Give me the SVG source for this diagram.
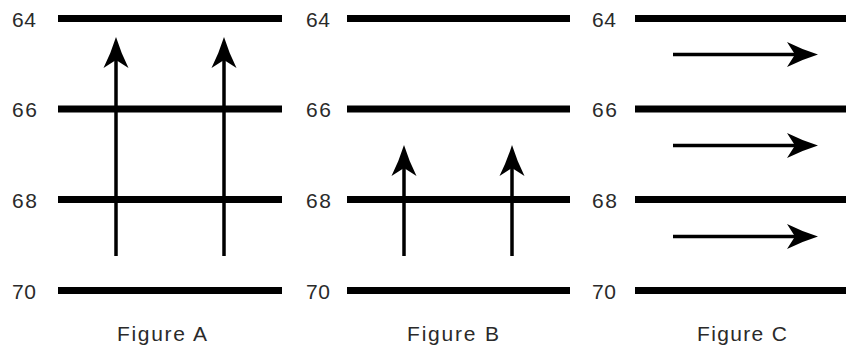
<svg xmlns="http://www.w3.org/2000/svg" width="846" height="351" viewBox="0 0 846 351">
<style>
.lvl{stroke:#000;stroke-width:7;fill:none}
.lab{font-family:"Liberation Sans",Arial,sans-serif;font-size:21px;fill:#2a2a2a}
.cap{font-family:"Liberation Sans",Arial,sans-serif;font-size:21px;fill:#2a2a2a}
.arr{stroke:#000;stroke-width:3.5;fill:none;marker-end:url(#head)}
</style>
<defs>
<marker id="head" markerUnits="userSpaceOnUse" viewBox="-15 -15 40 30" refX="0" refY="0" markerWidth="40" markerHeight="30" orient="auto">
<path d="M20,0 Q4,-5 -11,-12.5 L-3,0 L-11,12.5 Q4,5 20,0 Z" fill="#000"/>
</marker>
</defs>
<rect width="846" height="351" fill="#fff"/>
<g id="figA">
<g id="a64"><text class="lab" x="12" y="26.5" textLength="24">64</text><line class="lvl" x1="58" y1="18.5" x2="282" y2="18.5"/></g>
<g id="a66"><text class="lab" x="12" y="117" textLength="25">66</text><line class="lvl" x1="58" y1="109" x2="282" y2="109"/></g>
<g id="a68"><text class="lab" x="12" y="207.5" textLength="25">68</text><line class="lvl" x1="58" y1="199.5" x2="282" y2="199.5"/></g>
<g id="a70"><text class="lab" x="12" y="298.5" textLength="24">70</text><line class="lvl" x1="58" y1="290.5" x2="282" y2="290.5"/></g>
<g id="capA"><text class="cap" x="117" y="341" textLength="90">Figure A</text></g>
</g>
<g id="figB">
<g id="b64"><text class="lab" x="306" y="26.5" textLength="24">64</text><line class="lvl" x1="347" y1="18.5" x2="570" y2="18.5"/></g>
<g id="b66"><text class="lab" x="306" y="117" textLength="25">66</text><line class="lvl" x1="347" y1="109" x2="570" y2="109"/></g>
<g id="b68"><text class="lab" x="306" y="207.5" textLength="25">68</text><line class="lvl" x1="347" y1="199.5" x2="570" y2="199.5"/></g>
<g id="b70"><text class="lab" x="306" y="298.5" textLength="24">70</text><line class="lvl" x1="347" y1="290.5" x2="570" y2="290.5"/></g>
<g id="capB"><text class="cap" x="407" y="341" textLength="92">Figure B</text></g>
</g>
<g id="figC">
<g id="c64"><text class="lab" x="592" y="26.5" textLength="24">64</text><line class="lvl" x1="635" y1="18.5" x2="846" y2="18.5"/></g>
<g id="c66"><text class="lab" x="592" y="117" textLength="25">66</text><line class="lvl" x1="635" y1="109" x2="846" y2="109"/></g>
<g id="c68"><text class="lab" x="592" y="207.5" textLength="25">68</text><line class="lvl" x1="635" y1="199.5" x2="846" y2="199.5"/></g>
<g id="c70"><text class="lab" x="592" y="298.5" textLength="24">70</text><line class="lvl" x1="635" y1="290.5" x2="846" y2="290.5"/></g>
<g id="capC"><text class="cap" x="697" y="341" textLength="90">Figure C</text></g>
</g>
<g id="connectors">
<line class="arr" x1="116" y1="256" x2="116" y2="57"/>
<line class="arr" x1="224" y1="256" x2="224" y2="57"/>
<line class="arr" x1="404" y1="256" x2="404" y2="165"/>
<line class="arr" x1="512" y1="256" x2="512" y2="165"/>
<line class="arr" x1="673" y1="54.5" x2="798" y2="54.5"/>
<line class="arr" x1="673" y1="145.5" x2="798" y2="145.5"/>
<line class="arr" x1="673" y1="236.5" x2="798" y2="236.5"/>
</g>
</svg>
